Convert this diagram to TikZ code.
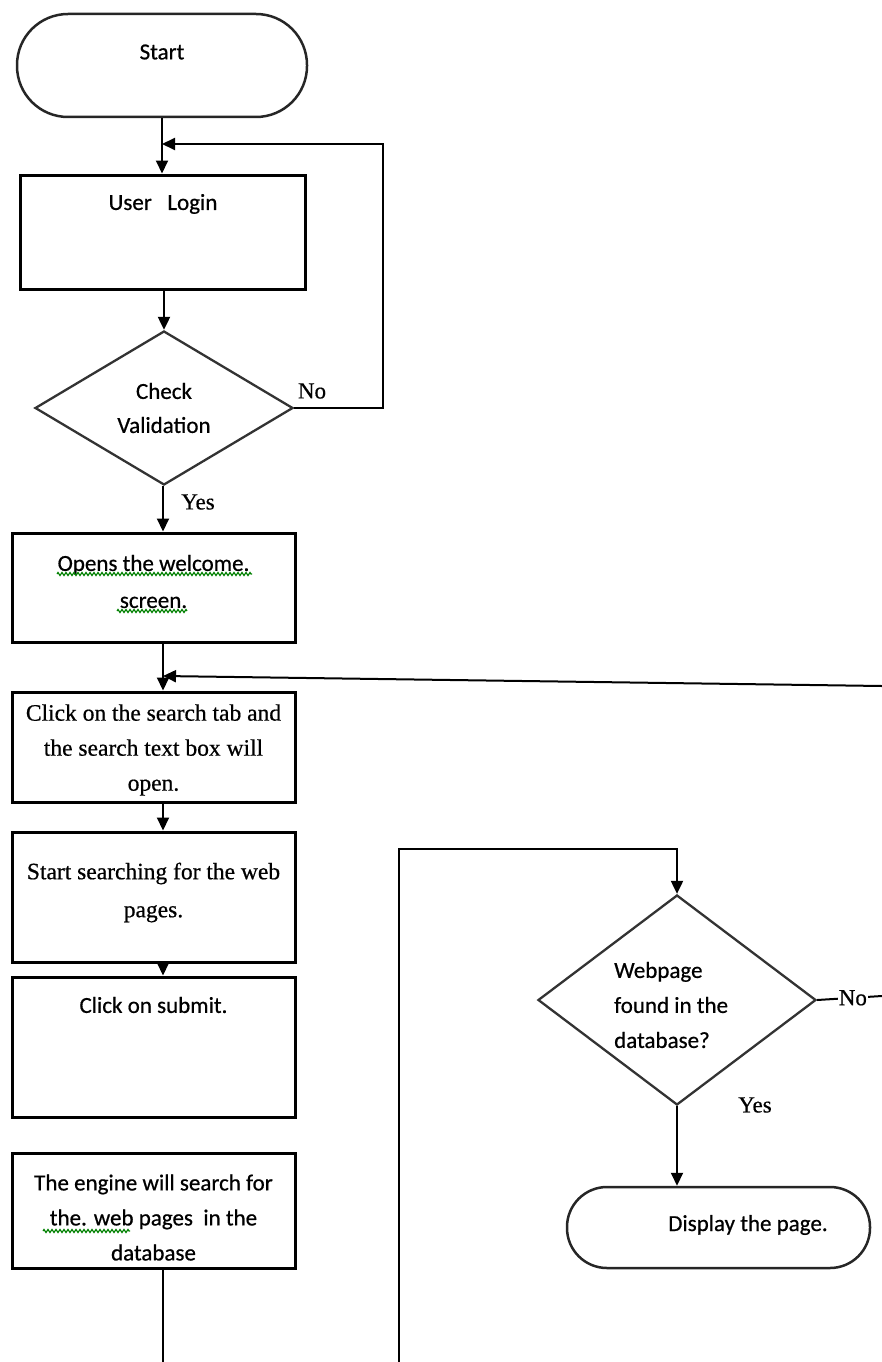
\documentclass[tikz,border=0pt]{standalone}
\usepackage{fontspec}
\setmainfont{Liberation Serif}[FakeBold=0.6]
\newfontfamily\calib{Carlito}[FakeBold=0.6]
\usetikzlibrary{shapes.geometric,arrows.meta,decorations.pathmorphing}

\tikzset{
  procbox/.style={draw, rectangle, line width=3pt, inner sep=0pt, minimum width=283pt},
  termbox/.style={draw=black!85, rectangle, line width=2.5pt, inner sep=0pt},
  decision/.style={draw=black!80, diamond, line width=2.3pt, inner sep=0pt},
  flow/.style={line width=2pt, -{Triangle[length=13pt,width=12pt]}},
  plainline/.style={line width=2pt},
  sanstext/.style={font=\calib\fontsize{23}{35}\selectfont, align=center, inner sep=0pt},
  seriftext/.style={font=\fontsize{23.5}{35}\selectfont, align=center, inner sep=0pt},
  lbl/.style={font=\fontsize{23}{26}\selectfont, inner sep=1pt},
  squiggle/.style={draw=green!50!black, line width=1.2pt, decorate,
    decoration={zigzag, segment length=4pt, amplitude=1.5pt}},
}

\begin{document}
\begin{tikzpicture}[x=1pt,y=-1pt]
  \useasboundingbox (0,0) rectangle (882,1362);

  % connector column of the left-hand boxes
  \coordinate (colx) at (163,0);

  % ---- left column ----
  \node[termbox, rounded corners=51pt, minimum width=290pt, minimum height=103pt] (start) at (162,65.5) {};
  \node[sanstext] (startT) at (162,52) {Start};

  \node[procbox, minimum width=285pt, minimum height=114pt] (login) at (162.5,232) {};
  \node[sanstext] (loginT) at (163,204) {User\ \ \ Login};

  \node[decision, minimum width=258pt, minimum height=154pt] (check) at (164,408) {};
  \node[sanstext, font=\calib\fontsize{23}{34}\selectfont] (checkT) at (164,408) {Check\\Validation};
  \node[lbl] (noA) at (312,391) {No};
  \node[lbl] (yesA) at (198,502) {Yes};

  \node[procbox, minimum height=109pt] (welcome) at (153.5,587.5) {};
  \node[sanstext, font=\calib\fontsize{23}{37}\selectfont] (welcomeT) at (153.5,581.5) {Opens the welcome.\\screen.};

  \node[procbox, minimum height=110pt] (click) at (153.5,747) {};
  \node[seriftext] (clickT) at (153.5,750) {Click on the search tab and\\the search text box will\\open.};

  \node[procbox, minimum height=130pt] (search) at (153.5,897) {};
  \node[seriftext, font=\fontsize{23.5}{38}\selectfont] (searchT) at (153.5,892.5) {Start searching for the web\\pages.};

  \node[procbox, minimum height=140pt] (submit) at (153.5,1047) {};
  \node[sanstext] (submitT) at (153.5,1005) {Click on submit.};

  \node[procbox, minimum height=115pt] (engine) at (153.5,1210.5) {};
  \node[sanstext] (engineT) at (153.5,1217.5) {The engine will search for\\the. web pages\ \ in the\\database};

  % ---- right column ----
  \node[decision, minimum width=278pt, minimum height=210pt] (web) at (677,1000) {};
  \node[sanstext, align=left, anchor=west] (webT) at (614,1005) {Webpage\\found in the\\database?};
  \node[lbl] (yesB) at (755,1105) {Yes};

  \node[termbox, rounded corners=40pt, minimum width=303pt, minimum height=81pt] (display) at (718.5,1227.5) {};
  \node[sanstext] (displayT) at (748,1225) {Display the page.};

  % ---- junctions and free ends ----
  \coordinate (jn1) at (162,144);
  \coordinate (loopR) at (383,144);
  \coordinate (jn2) at (163,676);
  \coordinate (rightIn) at (882,686);
  \coordinate (bottomL) at (163,1362);
  \coordinate (bottomR) at (399,1362);
  \coordinate (loopTop) at (677,849);
  \coordinate (rightOut) at (882,996);

  % ---- connectors ----
  \draw[flow] (start.south) -- (start.south |- login.north);
  \draw[flow] (check.east) -| (loopR) -- (jn1);
  \draw[flow] (login.south -| check.north) -- (check.north);
  \draw[flow] (check.south -| colx) -- (welcome.north -| colx);
  \draw[flow] (welcome.south -| colx) -- (click.north -| colx);
  \draw[flow] (rightIn) -- (jn2);
  \draw[flow] (click.south -| colx) -- (search.north -| colx);
  \draw[flow] (search.south -| colx) -- (submit.north -| colx);
  \draw[plainline] (engine.south -| colx) -- (bottomL);
  \draw[flow] (bottomR) |- (loopTop) -- (web.north);
  \draw[plainline] (web.east) -- (rightOut)
    node[lbl, fill=white, pos=0.55] (noB) {No};
  \draw[flow] (web.south) -- (web.south |- display.north);

  % ---- grammar squiggles under the text ----
  \draw[squiggle] (57,574) -- (252,574);
  \draw[squiggle] (117,611) -- (187,611);
  \draw[squiggle] (43,1231) -- (130,1231);
\end{tikzpicture}
\end{document}
